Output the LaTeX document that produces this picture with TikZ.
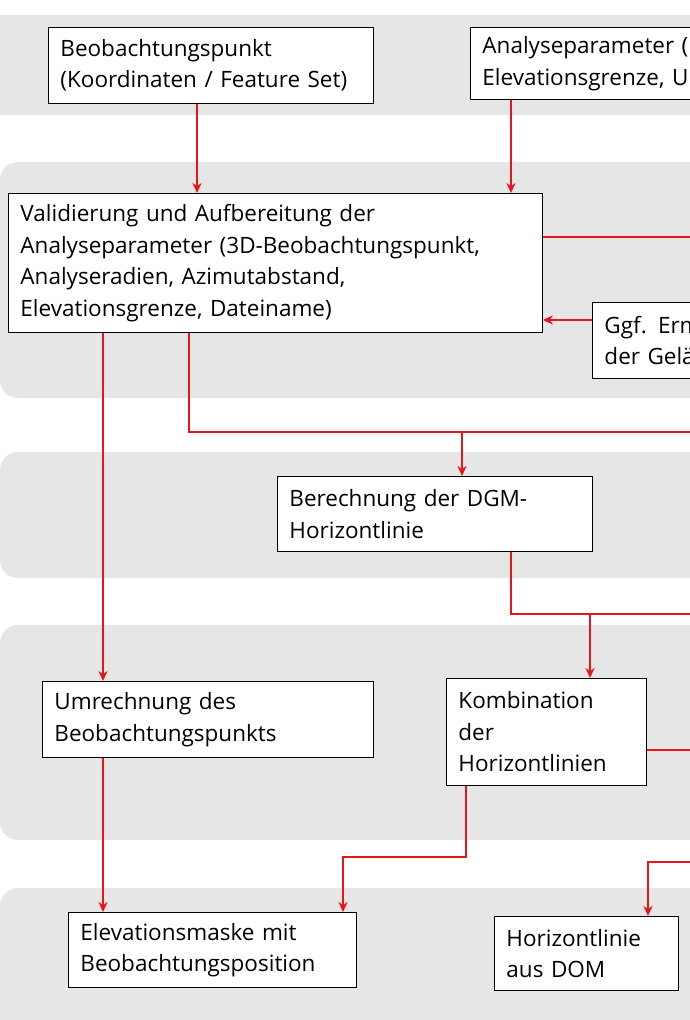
\documentclass[tikz,border=0pt]{standalone}
\usepackage{fontspec}
\setmainfont{Open Sans}
\usetikzlibrary{arrows.meta}
\definecolor{bandgray}{HTML}{E6E6E6}
\definecolor{arrred}{HTML}{E8161B}
\tikzset{
 band/.style={fill=bandgray,draw=none,rounded corners=18pt},
 box/.style={draw=black,fill=white,line width=0.9pt,inner xsep=12pt,inner ysep=0pt,align=left,font=\fontsize{22.5}{31.5}\selectfont},
 conn/.style={draw=arrred,line width=1.8pt,-{Stealth[length=10pt,width=9pt]}},
 line/.style={draw=arrred,line width=1.8pt}
}
\newcommand{\bx}[7]{\node[box,anchor=north west,minimum width=#4pt-#2pt,minimum height=#5pt-#3pt,text width=#4pt-#2pt-24pt] (#1) at (#2,#3) {#6};}
\begin{document}
\begin{tikzpicture}[x=1pt,y=-1pt]
\useasboundingbox (0,0) rectangle (690,1020);
\clip (0,0) rectangle (690,1020);
\fill[bandgray] (0,15) rectangle (700,115);
\fill[band] (0,162) rectangle (740,398);
\fill[band] (0,452) rectangle (740,578);
\fill[band] (0,625) rectangle (740,840);
\fill[band] (0,888) rectangle (740,1060);
\bx{A}{48}{27}{373}{103}{Beobachtungspunkt\\(Koordinaten / Feature Set)}{}
\bx{B}{470}{27}{800}{99}{Analyseparameter (\\Elevationsgrenze, Uhrzeit)}{}
\bx{C}{8}{193}{542}{332}{Validierung und Aufbereitung der\\Analyseparameter (3D-Beobachtungspunkt,\\Analyseradien, Azimutabstand,\\Elevationsgrenze, Dateiname)}{}
\bx{D}{592}{302}{900}{378}{Ggf. Ermittlung\\der Geländehöhe}{}
\bx{E}{277}{476}{592}{551}{Berechnung der DGM-\\Horizontlinie}{}
\bx{F}{42}{681}{373}{757}{Umrechnung des\\Beobachtungspunkts}{}
\bx{G}{446}{678}{646}{785}{Kombination\\der\\Horizontlinien}{}
\bx{H}{68}{912}{356}{987}{Elevationsmaske mit\\Beobachtungsposition}{}
\bx{I}{494}{916}{678}{990}{Horizontlinie\\aus DOM}{}
\coordinate (cr) at (690,237);
\coordinate (gr) at (690,750);
\coordinate (j1) at (690,432);
\coordinate (j2) at (690,614);
\coordinate (j3) at (690,862);
\draw[conn] (A.south -| 197,0) -- (C.north -| 197,0);
\draw[conn] (B.south -| 511,0) -- (C.north -| 511,0);
\draw[line] (C.east |- cr) -- (cr);
\draw[conn] (D.west |- 0,320) -- (C.east |- 0,320);
\draw[conn] (C.south -| 103,0) -- (F.north -| 103,0);
\draw[line] (C.south -| 189,0) |- (j1);
\draw[conn] (462,432) -- (E.north -| 462,0);
\draw[line] (E.south -| 511,0) |- (j2);
\draw[conn] (590,614) -- (G.north -| 590,0);
\draw[line] (G.east |- gr) -- (gr);
\draw[conn] (F.south -| 103,0) -- (H.north -| 103,0);
\draw[conn] (G.south -| 466,0) -- (466,857) -| (H.north -| 343,0);
\draw[conn] (j3) -- (648,862) -- (I.north -| 648,0);
\end{tikzpicture}
\end{document}
